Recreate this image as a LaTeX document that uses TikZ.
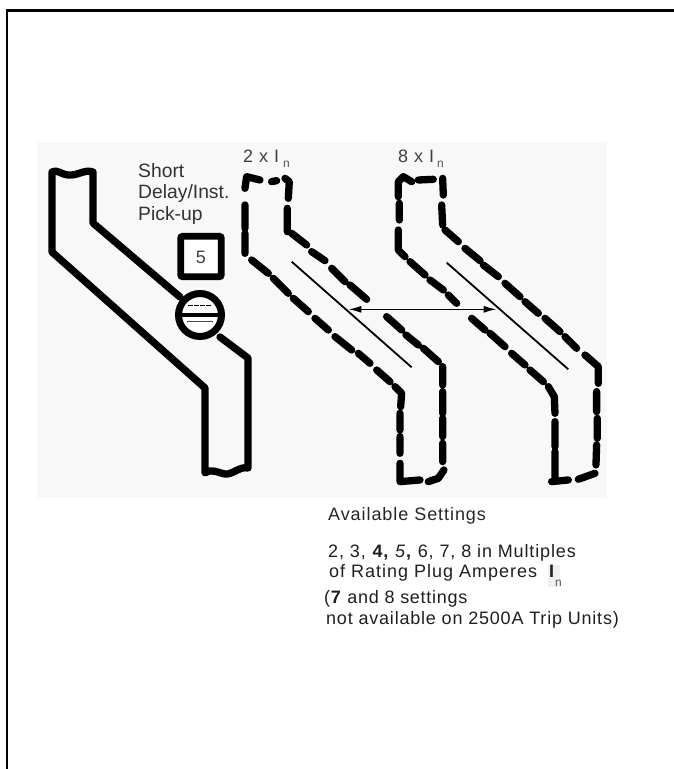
\documentclass[tikz,border=0pt]{standalone}
\usepackage{fontspec}
\setmainfont{Liberation Sans}
\usetikzlibrary{arrows.meta}
\definecolor{panel}{HTML}{F8F8F8}
\newcommand{\notefont}[1]{\fontsize{18pt}{20pt}\selectfont\addfontfeature{LetterSpace=#1}}
\tikzset{
  thick line/.style={draw=black,line width=7.3pt,line join=round,line cap=round},
  dash seg/.style={draw=black,line width=7.3pt,line join=round,line cap=round},
  thin rule/.style={draw=black,line width=1.8pt},
  lbl/.style={inner sep=0pt,anchor=base west,font=\fontsize{19.3pt}{21pt}\selectfont,text=black!80},
  note/.style={inner sep=0pt,anchor=base west,font=\notefont{4},text=black!88},
  head/.style={inner sep=0pt,anchor=base west,font=\notefont{5},text=black!75},
  sublbl/.style={inner sep=0pt,anchor=base west,font=\fontsize{12pt}{13pt}\selectfont,text=black!65}
}
\begin{document}
\begin{tikzpicture}[x=1pt,y=-1pt]
\useasboundingbox (0,0) rectangle (674,769);
\fill[white] (0,0) rectangle (674,769);
\draw[black,line width=2.7pt] (7,769) -- (7,10.7) -- (674,10.7);
\fill[panel] (37,142) rectangle (607,498);
% first shape
\draw[thick line] (180,297) -- (93,223) -- (93,172) .. controls (84,169) and (78,176) .. (68,175) .. controls (60,174) and (57,169) .. (52,172) -- (52,252) -- (205,388) -- (205,473) .. controls (212,468) and (218,473) .. (225,474) .. controls (232,475) and (240,466) .. (248,468) -- (248,358) -- (220,337);
\node[draw=black,line width=6.8pt,fill=white,minimum size=40.5pt,inner sep=0pt,rounded corners=2pt] (box) at (201,256.5) {};
\node[inner sep=0pt,font=\fontsize{18pt}{19pt}\selectfont,text=black!75] (five) at (201,257) {5};
\node[circle,draw=black,line width=7pt,fill=white,minimum size=43pt,inner sep=0pt] (dial) at (200,315) {};
\draw[draw=black,line width=4pt] (dial.west) -- (dial.east);
\draw[draw=black,line width=1pt,dash pattern=on 5pt off 1pt] (188,305) -- (212,305);
\draw[draw=black!70,line width=1pt] (187,321.5) -- (213,321.5);
% labels
\node[lbl] (t1) at (138,177) {Short};
\node[lbl] (t2) at (138,198) {Delay/Inst.};
\node[lbl] (t3) at (138,220) {Pick-up};
\node[head] (t4) at (243,162) {2 x I};
\node[sublbl] (t4s) at (283,167) {n};
\node[head] (t5) at (398,162) {8 x I};
\node[sublbl] (t5s) at (437,167) {n};
% second and third shapes: the dashes, placed in crop units
\begin{scope}[shift={(30,140)},x=0.3333pt,y=-0.3333pt]
\draw[dash seg] (645,145)--(650,110)--(690,120) (725,125)--(740,122) (765,115)--(778,125)--(775,175) (772,205)--(772,275) (785,280)--(830,315) (845,335)--(885,362) (645,195)--(645,265) (645,280)--(645,340) (665,360)--(715,400) (730,415)--(775,460) (790,475)--(835,515) (855,535)--(895,570);
\end{scope}
\begin{scope}[shift={(320,140)},x=0.3333pt,y=-0.3333pt]
\draw[dash seg] (35,385)--(75,425) (90,435)--(140,478) (45,590)--(95,630) (115,640)--(150,670) (170,690)--(210,725) (225,740)--(245,760)--(242,800) (240,820)--(240,870) (240,890)--(240,940) (240,970)--(240,1025)--(300,1020) (325,1025)--(355,1015)--(372,990) (368,910)--(368,965) (368,835)--(368,890) (368,755)--(368,820) (368,680)--(368,735) (310,625)--(355,665) (258,585)--(295,615) (200,530)--(245,570);
\draw[dash seg] (235,170)--(235,125)--(250,110)--(275,125) (295,120)--(340,118) (368,115)--(370,165) (365,195)--(368,255) (375,270)--(415,305) (435,325)--(480,362) (490,375)--(535,410) (555,430)--(600,470) (615,485)--(655,520) (675,535)--(720,575) (735,590)--(770,625) (795,645)--(835,680)--(835,730) (830,755)--(830,815) (832,835)--(832,895) (830,915)--(828,975) (825,1000)--(775,1018) (745,1020)--(695,1025) (705,1010)--(705,935) (705,920)--(705,845) (705,820)--(703,770)--(685,740) (670,725)--(630,690) (615,675)--(575,640) (555,620)--(510,580) (495,570)--(455,535) (410,490)--(385,465) (370,450)--(330,420) (315,405)--(270,365) (255,350)--(235,330)--(235,270) (238,240)--(238,190);
\coordinate (r1a) at (-85,365);
\coordinate (r1b) at (275,682);
\coordinate (r2a) at (380,368);
\coordinate (r2b) at (745,688);
\coordinate (ar1) at (85,508);
\coordinate (ar2) at (530,508);
\end{scope}
\draw[thin rule] (r1a) -- (r1b);
\draw[thin rule] (r2a) -- (r2b);
\draw[draw=black,line width=1.5pt,{Latex[length=13pt,width=7pt]}-{Latex[length=13pt,width=7pt]}] (ar1) -- (ar2);
% settings text
\fill[black!6] (548,565) rectangle (560,587);
\node[note,text=black!85,font=\notefont{5.2}] (s1) at (328,520) {Available Settings};
\node[note,font=\notefont{4.8}] (s2) at (328,557) {2, 3, \textbf{4,} \textit{5}\textbf{,} 6, 7, 8 in Multiples};
\node[note,font=\notefont{5.5}] (s3) at (329,577) {of Rating Plug Amperes};
\node[note,font=\fontsize{18pt}{20pt}\selectfont\bfseries] (s3i) at (549,577) {I};
\node[sublbl] (s3s) at (555,586) {n};
\node[note] (s4) at (324,603) {(\textbf{7} and 8 settings};
\node[note,font=\notefont{4.4}] (s5) at (326,624) {not available on 2500A Trip Units)};
\end{tikzpicture}
\end{document}
